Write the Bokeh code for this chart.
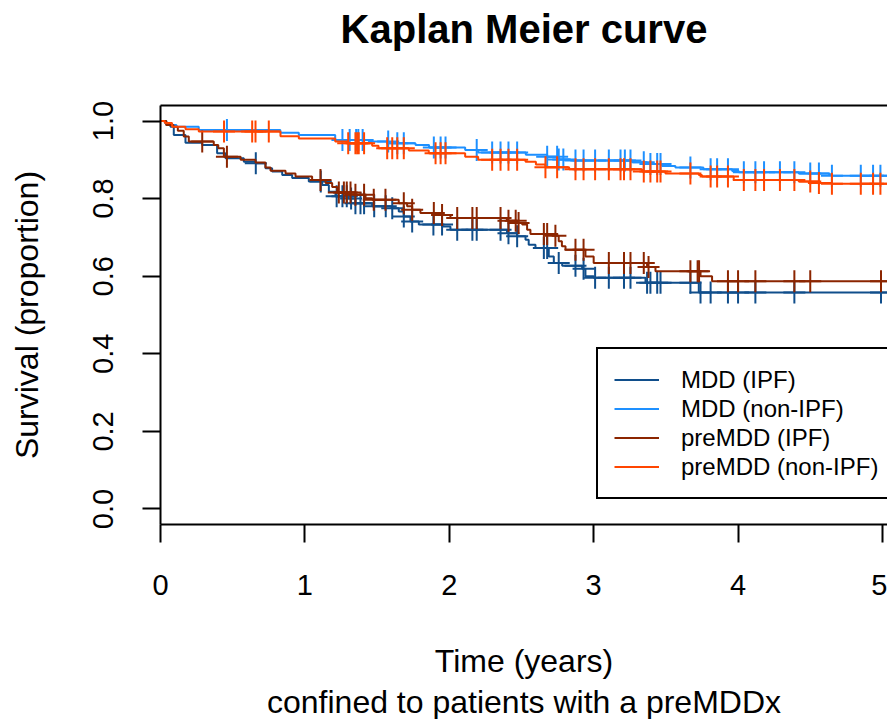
import numpy as np
from bokeh.plotting import figure
from bokeh.models import Range1d, FixedTicker, Legend, LegendItem, Title, LinearAxis
from bokeh.embed import file_html
from bokeh.resources import INLINE

# ---------------- data ----------------
series_names = ["MDD (IPF)", "MDD (non-IPF)", "preMDD (IPF)", "preMDD (non-IPF)"]
series_colors = ["#104E8B", "#1E90FF", "#8B2500", "#FF4500"]
end_time = 5.2

x_ticks = [0, 1, 2, 3, 4, 5]
y_ticks = [0.0, 0.2, 0.4, 0.6, 0.8, 1.0]
y_tick_labels = ["0.0", "0.2", "0.4", "0.6", "0.8", "1.0"]

mdd_ipf_t = [0.04, 0.069, 0.092, 0.173, 0.289, 0.392, 0.45, 0.577, 0.658, 0.727, 0.773, 0.843,
             0.912, 1.027, 1.12, 1.166, 1.212, 1.30, 1.35, 1.466, 1.60, 1.65, 1.685, 1.731,
             1.789, 1.951, 2.008, 2.40, 2.47, 2.528, 2.55, 2.597, 2.689, 2.724, 2.782, 2.92,
             2.943, 3.0, 3.359, 3.728]
mdd_ipf_s = [0.99, 0.985, 0.964, 0.944, 0.938, 0.917, 0.904, 0.895, 0.891, 0.878, 0.870, 0.861,
             0.853, 0.844, 0.835, 0.818, 0.806, 0.800, 0.788, 0.780, 0.775, 0.767, 0.754, 0.741,
             0.733, 0.728, 0.720, 0.711, 0.703, 0.694, 0.681, 0.673, 0.651, 0.634, 0.627, 0.619,
             0.600, 0.596, 0.583, 0.558]
mdd_ipf_cens = [0.66, 1.11, 1.22, 1.26, 1.29, 1.32, 1.35, 1.385, 1.41, 1.48, 1.56, 1.605, 1.685,
                1.743, 1.89, 1.95, 2.055, 2.16, 2.19, 2.355, 2.41, 2.47, 2.655, 2.678, 2.758,
                2.874, 2.93, 3.01, 3.105, 3.21, 3.255, 3.37, 3.393, 3.44, 3.463, 3.67, 3.74,
                3.81, 3.93, 4.0, 4.12, 4.39, 4.99]

mdd_nonipf_t = [0.03, 0.069, 0.11, 0.265, 0.83, 0.958, 1.21, 1.443, 1.58, 1.766, 1.86, 2.11,
                2.20, 2.53, 2.678, 2.758, 2.84, 3.266, 3.37, 3.474, 3.566, 3.76, 3.959, 4.005,
                4.42, 4.628, 4.65]
mdd_nonipf_s = [0.995, 0.99, 0.985, 0.977, 0.970, 0.964, 0.951, 0.947, 0.943, 0.938, 0.932, 0.925,
                0.919, 0.913, 0.908, 0.901, 0.898, 0.894, 0.889, 0.884, 0.880, 0.876, 0.871, 0.868,
                0.865, 0.863, 0.859]
mdd_nonipf_cens = [0.46, 1.26, 1.31, 1.355, 1.37, 1.40, 1.577, 1.64, 1.685, 1.893, 1.94, 1.974,
                   2.19, 2.297, 2.355, 2.41, 2.47, 2.678, 2.747, 2.758, 2.79, 2.874, 2.93, 3.01,
                   3.105, 3.186, 3.216, 3.255, 3.347, 3.393, 3.44, 3.463, 3.67, 3.81, 3.855,
                   3.93, 4.04, 4.12, 4.18, 4.29, 4.39, 4.50, 4.56, 4.65, 4.85, 4.935, 4.986]

premdd_ipf_t = [0.04, 0.09, 0.12, 0.161, 0.196, 0.369, 0.40, 0.439, 0.555, 0.658, 0.727, 0.762,
                0.866, 0.935, 1.05, 1.143, 1.189, 1.224, 1.35, 1.42, 1.466, 1.65, 1.708, 1.743,
                1.80, 1.905, 2.008, 2.40, 2.47, 2.505, 2.539, 2.562, 2.712, 2.758, 2.78, 2.805,
                2.943, 3.0, 3.37, 3.428, 3.74, 3.82]
premdd_ipf_s = [0.99, 0.985, 0.975, 0.960, 0.947, 0.938, 0.930, 0.908, 0.900, 0.893, 0.880, 0.872,
                0.865, 0.857, 0.848, 0.840, 0.830, 0.816, 0.810, 0.801, 0.797, 0.788, 0.780, 0.771,
                0.763, 0.758, 0.750, 0.743, 0.737, 0.733, 0.720, 0.709, 0.704, 0.690, 0.677, 0.668,
                0.651, 0.634, 0.624, 0.613, 0.600, 0.587]
premdd_ipf_cens = [0.289, 0.46, 1.108, 1.235, 1.27, 1.29, 1.316, 1.35, 1.41, 1.477, 1.558, 1.685,
                   1.743, 1.893, 1.95, 2.055, 2.16, 2.19, 2.355, 2.41, 2.46, 2.48, 2.655, 2.678,
                   2.735, 2.874, 2.93, 3.105, 3.21, 3.255, 3.347, 3.38, 3.67, 3.72, 3.73, 3.93,
                   4.0, 4.12, 4.39, 4.5, 4.99]

premdd_nonipf_t = [0.03, 0.08, 0.173, 0.265, 0.831, 0.958, 1.21, 1.30, 1.466, 1.51, 1.72, 1.858,
                   2.11, 2.20, 2.528, 2.60, 2.666, 2.83, 3.335, 3.497, 3.728, 3.75, 3.97, 4.42,
                   4.56, 4.65]
premdd_nonipf_s = [0.995, 0.985, 0.979, 0.973, 0.961, 0.955, 0.947, 0.943, 0.936, 0.930, 0.924, 0.917,
                   0.908, 0.900, 0.895, 0.888, 0.881, 0.876, 0.870, 0.865, 0.861, 0.857, 0.848, 0.844,
                   0.840, 0.838]
premdd_nonipf_cens = [0.44, 0.635, 0.658, 0.75, 1.30, 1.35, 1.362, 1.373, 1.41, 1.57, 1.605, 1.64,
                      1.685, 1.905, 1.94, 1.974, 2.297, 2.355, 2.41, 2.47, 2.666, 2.747, 2.874,
                      2.93, 3.01, 3.105, 3.186, 3.21, 3.255, 3.347, 3.393, 3.44, 3.463, 3.67,
                      3.81, 3.855, 3.93, 4.04, 4.12, 4.18, 4.29, 4.39, 4.5, 4.56, 4.65, 4.85,
                      4.935, 4.986]

curves = [
    (mdd_ipf_t, mdd_ipf_s, mdd_ipf_cens),
    (mdd_nonipf_t, mdd_nonipf_s, mdd_nonipf_cens),
    (premdd_ipf_t, premdd_ipf_s, premdd_ipf_cens),
    (premdd_nonipf_t, premdd_nonipf_s, premdd_nonipf_cens),
]

FONT = "Liberation Sans"

p = figure(width=887, height=719, output_backend="svg", toolbar_location=None,
           x_range=Range1d(0, 5.035), y_range=Range1d(-0.04, 1.04),
           min_border_left=160, min_border_right=0, min_border_top=105, min_border_bottom=194,
           x_axis_location="below", y_axis_location="left")
p.background_fill_color = "white"
p.border_fill_color = "white"
p.outline_line_color = None
p.xgrid.visible = False
p.ygrid.visible = False

# title
p.title.text = "Kaplan Meier curve"
p.title.text_font = FONT
p.title.text_font_size = "40px"
p.title.text_font_style = "bold"
p.title.align = "center"
p.title.text_color = "black"
p.title.standoff = 0

# axes
for ax in (p.xaxis[0], p.yaxis[0]):
    ax.axis_line_width = 2
    ax.axis_line_color = "black"
    ax.major_tick_line_width = 2
    ax.major_tick_line_color = "black"
    ax.major_tick_out = 18
    ax.major_tick_in = 0
    ax.minor_tick_line_color = None
    ax.major_label_text_font = FONT
    ax.major_label_text_font_size = "29px"
    ax.major_label_text_color = "black"
    ax.axis_label_text_font = FONT
    ax.axis_label_text_font_size = "32px"
    ax.axis_label_text_font_style = "normal"
    ax.axis_label_text_color = "black"

p.xaxis.ticker = FixedTicker(ticks=x_ticks)
p.xaxis.major_label_standoff = 32
p.xaxis.axis_label = "Time (years)"
p.xaxis.axis_label_standoff = 45

p.yaxis.ticker = FixedTicker(ticks=y_ticks)
p.yaxis.major_label_overrides = {t: l for t, l in zip(y_ticks, y_tick_labels)}
p.yaxis.major_label_orientation = "vertical"
p.yaxis.major_label_standoff = 29
p.yaxis.axis_label = "Survival (proportion)"
p.yaxis.axis_label_standoff = 46

# top border line
top_axis = LinearAxis(major_tick_line_color=None, minor_tick_line_color=None,
                      major_label_text_font_size="0px", axis_line_width=2,
                      axis_line_color="black", ticker=FixedTicker(ticks=[]))
p.add_layout(top_axis, "above")

# empty spacer between the title and the plot frame
spacer = Title(text=" ", text_font=FONT, text_font_size="10px", standoff=42)
p.add_layout(spacer, "above")

sub = Title(text="confined to patients with a preMDDx", align="center",
            text_font=FONT, text_font_size="32px", text_font_style="normal",
            text_color="black", standoff=0)
p.add_layout(sub, "below")

items = []
for (t, s, cens), name, col in zip(curves, series_names, series_colors):
    xs = [0.0] + list(t) + [end_time]
    ys = [1.0] + list(s) + [s[-1]]
    r = p.step(xs, ys, mode="after", line_color=col, line_width=2)
    t_arr = np.array(t)
    idx = np.searchsorted(t_arr, np.array(cens), side="right") - 1
    cy = [s[i] if i >= 0 else 1.0 for i in idx]
    p.scatter(cens, cy, marker="cross", size=22, line_color=col, line_width=2)
    items.append(LegendItem(label=name, renderers=[r]))

legend = Legend(items=items, location=(436, 25), padding=16, spacing=0,
                glyph_width=45, glyph_height=29, label_height=29, label_width=215,
                label_standoff=22,
                label_text_font=FONT, label_text_font_size="24px", label_text_color="black",
                border_line_color="black", border_line_width=2, border_line_alpha=1.0,
                background_fill_color="white", background_fill_alpha=1.0, margin=0)
p.add_layout(legend, "center")

open("out.html", "w").write(file_html(p, INLINE))
